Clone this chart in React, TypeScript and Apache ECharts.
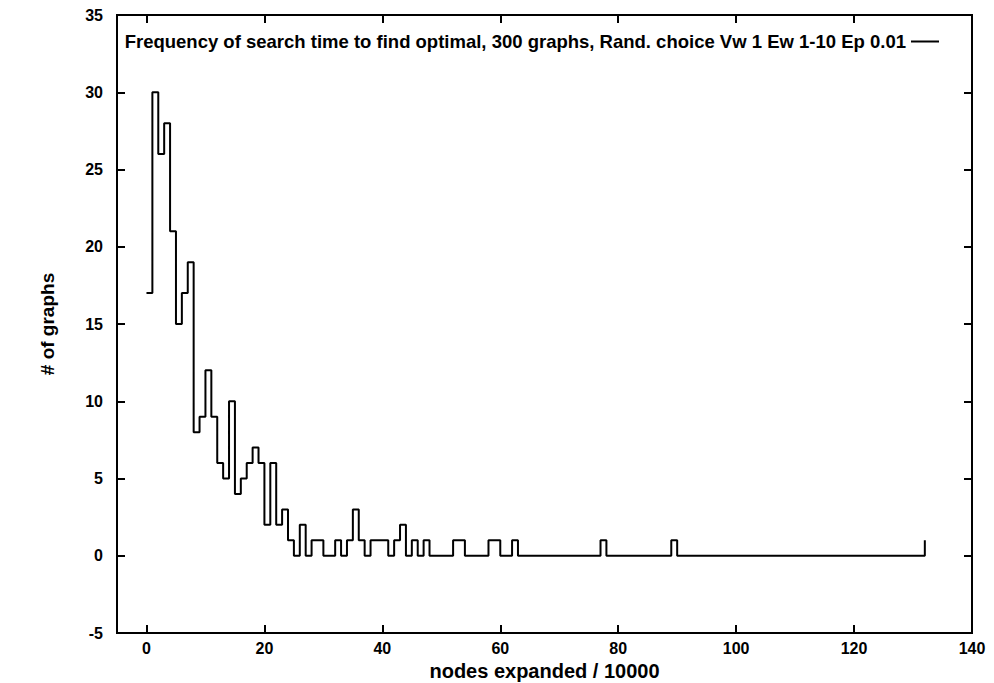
import React, { useEffect, useRef } from "react";
import * as echarts from "echarts";

// Histogram bins (x = nodes expanded / 10000, step drawn from bin start)
const nodesExpanded = [
  0, 1, 2, 3, 4, 5, 6, 7, 8, 9, 10, 11, 12, 13, 14, 15, 16, 17, 18, 19, 20,
  21, 22, 23, 24, 25, 26, 27, 28, 29, 30, 31, 32, 33, 34, 35, 36, 37, 38, 39,
  40, 41, 42, 43, 44, 45, 46, 47, 48, 52, 53, 54, 58, 59, 60, 62, 63, 77, 78,
  89, 90, 132,
];
const graphCounts = [
  17, 30, 26, 28, 21, 15, 17, 19, 8, 9, 12, 9, 6, 5, 10, 4, 5, 6, 7, 6, 2,
  6, 2, 3, 1, 0, 2, 0, 1, 1, 0, 0, 1, 0, 1, 3, 1, 0, 1, 1,
  1, 0, 1, 2, 0, 1, 0, 1, 0, 1, 1, 0, 1, 1, 0, 1, 0, 1, 0,
  1, 0, 1,
];
const xTicks = [0, 20, 40, 60, 80, 100, 120, 140];
const seriesName =
  "Frequency of search time to find optimal, 300 graphs, Rand. choice Vw 1 Ew 1-10 Ep 0.01";
const xTitle = "nodes expanded / 10000";
const yTitle = "# of graphs";

const FONT = "Liberation Sans, Arial, Helvetica, sans-serif";

export default function App() {
  const ref = useRef<HTMLDivElement>(null);
  useEffect(() => {
    if (!ref.current) return;
    const chart = echarts.init(ref.current, undefined, { renderer: "svg" });
    const data = nodesExpanded.map((x, i) => [x, graphCounts[i]]);
    const labelStyle = {
      color: "#000",
      fontFamily: FONT,
      fontSize: 16,
      fontWeight: "bold" as const,
    };
    const tickStyle = { show: true, inside: true, length: 8, lineStyle: { color: "#000", width: 2 } };
    const hiddenLine = { show: false, onZero: false };
    chart.setOption({
      animation: false,
      backgroundColor: "#fff",
      grid: {
        left: 117,
        right: 22,
        top: 15,
        bottom: 50,
        outerBoundsMode: "none",
        show: true,
        borderColor: "#000",
        borderWidth: 2,
        backgroundColor: "transparent",
      },
      legend: {
        show: true,
        right: 50,
        top: 27,
        align: "right",
        icon: "rect",
        itemWidth: 28,
        itemHeight: 2,
        itemStyle: { color: "#000" },
        textStyle: { ...labelStyle, fontSize: 18.5 },
        data: [seriesName],
      },
      xAxis: [
        {
          type: "value",
          min: -5,
          max: 140,
          position: "bottom",
          axisLine: hiddenLine,
          splitLine: { show: false },
          axisTick: { ...tickStyle, customValues: xTicks },
          axisLabel: { ...labelStyle, margin: 7, customValues: xTicks },
          name: xTitle,
          nameLocation: "middle",
          nameGap: 19,
          nameTextStyle: { ...labelStyle, fontSize: 20 },
        },
        {
          type: "value",
          min: -5,
          max: 140,
          position: "top",
          axisLine: hiddenLine,
          splitLine: { show: false },
          axisTick: { ...tickStyle, customValues: xTicks },
          axisLabel: { show: false, customValues: xTicks },
        },
      ],
      yAxis: [
        {
          type: "value",
          min: -5,
          max: 35,
          interval: 5,
          position: "left",
          axisLine: hiddenLine,
          splitLine: { show: false },
          axisTick: tickStyle,
          axisLabel: { ...labelStyle, margin: 14 },
          name: yTitle,
          nameLocation: "middle",
          nameGap: 60,
          nameRotate: 90,
          nameTextStyle: { ...labelStyle, fontSize: 19 },
        },
        {
          type: "value",
          min: -5,
          max: 35,
          interval: 5,
          position: "right",
          axisLine: hiddenLine,
          splitLine: { show: false },
          axisTick: tickStyle,
          axisLabel: { show: false },
        },
      ],
      series: [
        {
          name: seriesName,
          type: "line",
          step: "end",
          symbol: "none",
          data,
          lineStyle: { color: "#000", width: 2 },
          itemStyle: { color: "#000" },
        },
      ],
    });
    return () => chart.dispose();
  }, []);
  return <div ref={ref} style={{ width: 994, height: 683, position: "absolute", left: 0, top: 0 }} />;
}
